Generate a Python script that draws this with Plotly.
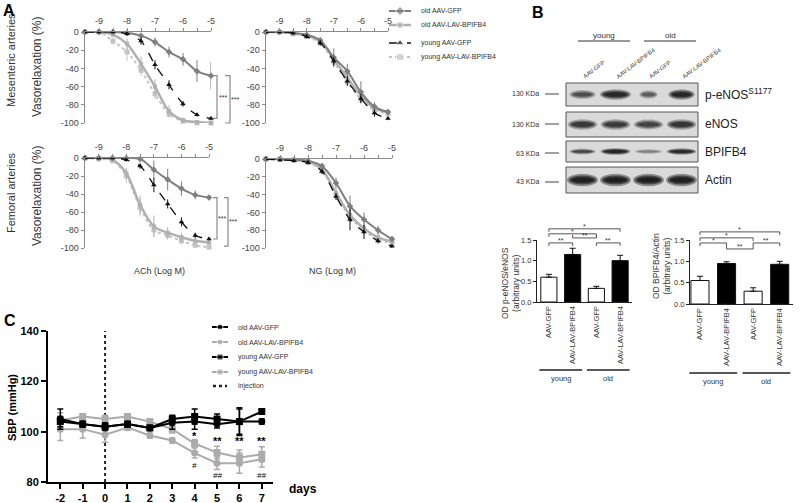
import plotly.graph_objects as go

W, H = 800, 503
FONT = "Liberation Sans, Arial, sans-serif"

# ---------------- DATA ----------------
# Panel A: concentration-response (log M)
logc = [-9.5, -9, -8.5, -8, -7.5, -7, -6.5, -6, -5.5, -5]
a_series = ["old AAV-GFP", "old AAV-LAV-BPIFB4", "young AAV-GFP", "young AAV-LAV-BPIFB4"]

mes_ach = {
    "old AAV-GFP":          [0, 0, 0, -1, -4, -11, -22, -30, -43, -48],
    "old AAV-LAV-BPIFB4":   [0, 0, -3, -13, -35, -60, -87, -97, -99, -100],
    "young AAV-GFP":        [0, 0, 0, -2, -10, -36, -58, -79, -91, -95],
    "young AAV-LAV-BPIFB4": [0, 0, -10, -22, -42, -68, -90, -98, -100, -100],
}
mes_ach_err = {
    "old AAV-GFP":          [0, 0, 1, 2, 3, 5, 6, 7, 12, 15],
    "old AAV-LAV-BPIFB4":   [0, 0, 2, 6, 8, 8, 6, 3, 2, 1],
    "young AAV-GFP":        [0, 0, 1, 2, 4, 5, 5, 3, 2, 2],
    "young AAV-LAV-BPIFB4": [0, 0, 4, 10, 6, 6, 4, 2, 1, 1],
}
mes_ng = {
    "old AAV-GFP":          [0, 0, -1, -3, -9, -28, -43, -66, -82, -88],
    "old AAV-LAV-BPIFB4":   [0, 0, -1, -4, -10, -30, -50, -70, -84, -88],
    "young AAV-GFP":        [0, 0, -1, -5, -12, -32, -54, -73, -89, -95],
    "young AAV-LAV-BPIFB4": [0, 0, -2, -5, -12, -33, -55, -74, -86, -90],
}
mes_ng_err = {
    "old AAV-GFP":          [0, 0, 1, 2, 3, 10, 8, 12, 5, 3],
    "old AAV-LAV-BPIFB4":   [0, 0, 1, 2, 3, 6, 6, 6, 4, 3],
    "young AAV-GFP":        [0, 0, 1, 2, 3, 5, 5, 5, 4, 2],
    "young AAV-LAV-BPIFB4": [0, 0, 1, 2, 3, 6, 5, 5, 4, 3],
}
fem_ach = {
    "old AAV-GFP":          [0, 0, 0, 0, -1, -13, -24, -34, -41, -44],
    "old AAV-LAV-BPIFB4":   [0, 0, -2, -17, -52, -76, -83, -88, -92, -94],
    "young AAV-GFP":        [0, 0, 0, -2, -9, -30, -51, -71, -86, -90],
    "young AAV-LAV-BPIFB4": [0, -1, -3, -20, -55, -80, -86, -92, -97, -99],
}
fem_ach_err = {
    "old AAV-GFP":          [0, 0, 1, 1, 2, 10, 12, 8, 5, 3],
    "old AAV-LAV-BPIFB4":   [0, 0, 2, 6, 10, 12, 6, 5, 3, 2],
    "young AAV-GFP":        [0, 0, 1, 2, 3, 8, 5, 5, 3, 2],
    "young AAV-LAV-BPIFB4": [0, 1, 3, 8, 10, 8, 5, 4, 2, 1],
}
fem_ng = {
    "old AAV-GFP":          [0, 0, -1, -2, -8, -27, -53, -68, -80, -90],
    "old AAV-LAV-BPIFB4":   [0, 0, -1, -3, -12, -38, -63, -78, -88, -93],
    "young AAV-GFP":        [0, -1, -2, -4, -14, -42, -68, -82, -92, -98],
    "young AAV-LAV-BPIFB4": [0, 0, -1, -4, -13, -40, -65, -80, -90, -95],
}
fem_ng_err = {
    "old AAV-GFP":          [0, 0, 1, 2, 3, 6, 12, 8, 5, 3],
    "old AAV-LAV-BPIFB4":   [0, 0, 1, 2, 3, 5, 8, 6, 4, 3],
    "young AAV-GFP":        [0, 0, 1, 2, 3, 4, 12, 8, 3, 2],
    "young AAV-LAV-BPIFB4": [0, 0, 1, 2, 3, 5, 6, 5, 3, 3],
}
xtick_A = [-9, -8, -7, -6, -5]
xtick_A_text = ["-9", "-8", "-7", "-6", "-5"]
ytick_A = [0, -20, -40, -60, -80, -100]
ytick_A_text = ["0", "-20", "-40", "-60", "-80", "-100"]
mes_sig = [(-48, -95, "***"), (-48, -100, "***")]
fem_sig = [(-44, -90, "***"), (-44, -98, "***")]

# Panel B: western blot + densitometry
lanes = ["AAV-GFP", "AAV-LAV-BPIFB4", "AAV-GFP", "AAV-LAV-BPIFB4"]
groups = ["young", "old"]
blot_rows = ["p-eNOS<sup>S1177</sup>", "eNOS", "BPIFB4", "Actin"]
blot_kda = ["130 KDa", "130 KDa", "63 KDa", "43 KDa"]
band_intensity = [
    [0.55, 0.85, 0.45, 0.85],
    [0.70, 0.68, 0.62, 0.72],
    [0.60, 0.90, 0.30, 0.85],
    [0.95, 0.95, 0.95, 0.95],
]
band_width = [
    [0.85, 1.0, 0.6, 0.85],
    [0.95, 0.95, 0.95, 0.95],
    [0.85, 0.95, 0.9, 0.95],
    [1.0, 1.0, 1.0, 1.0],
]
peNOS_vals = [0.60, 1.15, 0.33, 1.00]
peNOS_err = [0.07, 0.15, 0.05, 0.13]
bpifb4_vals = [0.55, 0.95, 0.30, 0.93]
bpifb4_err = [0.10, 0.04, 0.08, 0.07]
bar_colors = ["white", "black", "white", "black"]
peNOS_sig = [(0, 3, 1.77, "*"), (0, 2, 1.65, "*"), (1, 2, 1.55, "**"), (0, 1, 1.43, "**"), (2, 3, 1.43, "**")]
peNOS_sig_up = [False, False, True, False, False]
bpifb4_sig = [(0, 3, 1.69, "*"), (0, 2, 1.55, "*"), (0, 1, 1.43, "*"), (1, 2, 1.29, "**"), (2, 3, 1.43, "**")]
bpifb4_sig_up = [False, False, False, True, False]
ytick_B = [0, 0.5, 1.0, 1.5]
ytick_B_text = ["0.0", "0.5", "1.0", "1.5"]

# Panel C: systolic blood pressure
days = [-2, -1, 0, 1, 2, 3, 4, 5, 6, 7]
day_labels = ["-2", "-1", "0", "1", "2", "3", "4", "5", "6", "7"]
c_series = ["old AAV-GFP", "old AAV-LAV-BPIFB4", "young AAV-GFP", "young AAV-LAV-BPIFB4"]
sbp = {
    "old AAV-GFP":          [105, 103, 102, 103, 101.5, 103.5, 104, 103, 104, 104],
    "old AAV-LAV-BPIFB4":   [101, 101, 98.8, 101.6, 98.5, 96.5, 91.5, 87.5, 87.5, 89],
    "young AAV-GFP":        [104, 103, 102, 103, 101.5, 105, 106, 105, 104, 108],
    "young AAV-LAV-BPIFB4": [104.5, 106, 105, 106, 104, 101, 95.3, 91.7, 89.7, 91],
}
sbp_err = {
    "old AAV-GFP":          [4, 1, 1.5, 1, 0.8, 2.5, 3, 1.5, 5.5, 1],
    "old AAV-LAV-BPIFB4":   [4.5, 3.5, 3, 1, 1, 1, 2, 2.5, 4, 3],
    "young AAV-GFP":        [2, 1, 1, 1, 1, 1.5, 3, 2, 5, 1],
    "young AAV-LAV-BPIFB4": [3, 1, 1.5, 1, 1, 1.5, 1.5, 2.5, 3, 3],
}
sbp_ticks = [80, 100, 120, 140]
injection_day = 0
star_days = [4, 5, 6, 7]
star_text = ["*", "**", "**", "**"]
star_y = [98.4, 96.4, 96.4, 96.4]
hash_days = [4, 5, 7]
hash_text = ["#", "##", "##"]
hash_y = [86.4, 82.4, 82.4]

# ---------------- LAYOUT HELPERS ----------------
AX = {
    "A1": dict(x=(85, 211), y=(32, 123), xr=[-9.5, -5], yr=[-100, 0]),
    "A2": dict(x=(266, 388), y=(32, 123), xr=[-9.5, -5], yr=[-100, 0]),
    "A3": dict(x=(85, 209), y=(158, 248), xr=[-9.5, -5], yr=[-100, 0]),
    "A4": dict(x=(266, 392), y=(159, 248), xr=[-9.5, -5], yr=[-100, 0]),
    "B1": dict(x=(537, 632), y=(240, 302), xr=[-0.5, 3.5], yr=[0, 1.5]),
    "B2": dict(x=(690, 793), y=(240, 304), xr=[-0.375, 3.5], yr=[0, 1.5]),
    "C":  dict(x=(48, 273), y=(331, 482), xr=[-2.55, 7.5], yr=[80, 140]),
    "P":  dict(x=(0, 800), y=(0, 503), xr=[0, 800], yr=[503, 0]),
}
KEYS = list(AX.keys())


def sfx(k):
    i = KEYS.index(k) + 1
    return "" if i == 1 else str(i)


def pxx(x):
    return x / W


def pxy(y):
    return 1 - y / H


def dx(k, v):
    a = AX[k]
    x0, x1 = a["x"]
    r0, r1 = a["xr"]
    return pxx(x0 + (v - r0) / (r1 - r0) * (x1 - x0))


def dy(k, v):
    a = AX[k]
    yt, yb = a["y"]
    r0, r1 = a["yr"]
    return pxy(yb - (v - r0) / (r1 - r0) * (yb - yt))


fig = go.Figure()
shapes, annotations = [], []
layout = {}

for k in KEYS:
    a = AX[k]
    s = sfx(k)
    layout["xaxis" + s] = dict(domain=[pxx(a["x"][0]), pxx(a["x"][1])], range=a["xr"],
                               anchor="y" + s, fixedrange=True, automargin=False)
    layout["yaxis" + s] = dict(domain=[pxy(a["y"][1]), pxy(a["y"][0])], range=a["yr"],
                               anchor="x" + s, fixedrange=True, automargin=False)

# Panel A axes styling
for k in ["A1", "A2", "A3", "A4"]:
    s = sfx(k)
    layout["xaxis" + s].update(side="top", showline=True, linecolor="#8a8a8a", linewidth=1.5,
                               ticks="outside", ticklen=3, tickcolor="#8a8a8a",
                               tickvals=xtick_A, ticktext=xtick_A_text, showgrid=False, zeroline=False,
                               minor=dict(tickvals=[-8.5, -7.5, -6.5, -5.5], ticks="outside", ticklen=3,
                                          tickcolor="#8a8a8a", showgrid=False),
                               tickfont=dict(family=FONT, size=9, color="#444"))
    layout["yaxis" + s].update(showline=True, linecolor="#8a8a8a", linewidth=1.5,
                               ticks="outside", ticklen=3, tickcolor="#8a8a8a",
                               tickvals=ytick_A, ticktext=ytick_A_text, showgrid=False, zeroline=False,
                               tickfont=dict(family=FONT, size=9, color="#444"))

A_style = {
    "old AAV-GFP": dict(color="#7f7f7f", width=2, dash="solid", symbol="diamond", size=5),
    "old AAV-LAV-BPIFB4": dict(color="#b0b0b0", width=2.5, dash="solid", symbol="square", size=4),
    "young AAV-GFP": dict(color="#111111", width=1.3, dash="dash", symbol="triangle-up", size=5),
    "young AAV-LAV-BPIFB4": dict(color="#c4c4c4", width=2, dash="dot", symbol="square", size=5),
}
A_panels = [("A1", mes_ach, mes_ach_err), ("A2", mes_ng, mes_ng_err),
            ("A3", fem_ach, fem_ach_err), ("A4", fem_ng, fem_ng_err)]
draw_order = ["young AAV-LAV-BPIFB4", "old AAV-LAV-BPIFB4", "old AAV-GFP", "young AAV-GFP"]
for k, vals, errs in A_panels:
    s = sfx(k)
    for name in draw_order:
        st = A_style[name]
        fig.add_trace(go.Scatter(
            x=logc, y=vals[name], mode="lines+markers", name=name, showlegend=False,
            xaxis="x" + s, yaxis="y" + s, cliponaxis=False,
            line=dict(color=st["color"], width=st["width"], dash=st["dash"], shape="spline", smoothing=0.9),
            marker=dict(symbol=st["symbol"], size=st["size"], color=st["color"]),
            error_y=dict(type="data", array=errs[name], color=st["color"], thickness=1, width=0)))

# significance brackets in A
for k, sig, xoffs in [("A1", mes_sig, [(213, 217, 223), (225, 230, 235)]),
                      ("A3", fem_sig, [(213, 217, 222), (224, 228, 233)])]:
    for (ytop, ybot, txt), (xin, xout, xt) in zip(sig, xoffs):
        y1, y2 = dy(k, ytop), dy(k, ybot)
        shapes.append(dict(type="path", xref="paper", yref="paper",
                           path=f"M {pxx(xin)},{y1} L {pxx(xout)},{y1} L {pxx(xout)},{y2} L {pxx(xin)},{y2}",
                           line=dict(color="#8a8a8a", width=1.2)))
        annotations.append(dict(x=pxx(xt), y=(y1 + y2) / 2, xref="paper", yref="paper", text=txt,
                                showarrow=False, font=dict(family=FONT, size=7, color="#333")))

# Panel A legend (custom, compact)
legA_rows = [11, 25, 43, 57]
for name, ry in zip(a_series, legA_rows):
    st = A_style[name]
    fig.add_trace(go.Scatter(x=[389, 400, 411], y=[ry] * 3, mode="lines+markers", showlegend=False,
                             xaxis="x" + sfx("P"), yaxis="y" + sfx("P"), cliponaxis=False,
                             line=dict(color=st["color"], width=st["width"], dash=st["dash"]),
                             marker=dict(symbol=st["symbol"], size=[0, st["size"] + 2, 0], color=st["color"])))
    annotations.append(dict(x=pxx(419), y=pxy(ry), xref="paper", yref="paper", text=name, showarrow=False,
                            xanchor="left", font=dict(family=FONT, size=7, color="#333")))

# Panel A text labels
for txt, x, y, size in [("Mesenteric arteries", 11, 60, 11), ("Vasorelaxation (%)", 37, 67, 12),
                        ("Femoral arteries", 11, 193, 11), ("Vasorelaxation (%)", 37, 196, 12)]:
    annotations.append(dict(x=pxx(x), y=pxy(y), xref="paper", yref="paper", text=txt, textangle=-90,
                            showarrow=False, font=dict(family=FONT, size=size, color="#333")))
for txt, x, y in [("ACh (Log M)", 159, 271), ("NG (Log M)", 332, 271)]:
    annotations.append(dict(x=pxx(x), y=pxy(y), xref="paper", yref="paper", text=txt, showarrow=False,
                            font=dict(family=FONT, size=9, color="#333")))
for txt, x, y in [("A", 9, 11), ("B", 538, 13), ("C", 10, 320)]:
    annotations.append(dict(x=pxx(x), y=pxy(y), xref="paper", yref="paper", text=f"<b>{txt}</b>",
                            showarrow=False, font=dict(family=FONT, size=16, color="black")))

# ---------------- Panel B: blot ----------------
blot_x0, blot_x1 = 566, 698
lane_w = (blot_x1 - blot_x0) / len(lanes)
row_boxes = [(83, 106), (112, 137), (141, 162), (167, 193)]
row_band_h = [11, 12, 7, 13]
row_label_y = [94, 124, 152, 180]
kda_y = [94, 124, 153, 182]
for r, (yt, yb) in enumerate(row_boxes):
    shapes.append(dict(type="rect", xref="paper", yref="paper", x0=pxx(blot_x0), x1=pxx(blot_x1),
                       y0=pxy(yb), y1=pxy(yt), fillcolor="#dadada", line=dict(color="#555", width=1)))
    cy = (yt + yb) / 2
    for li in range(len(lanes)):
        cx = blot_x0 + (li + 0.5) * lane_w
        inten = band_intensity[r][li]
        bw = band_width[r][li] * lane_w * 0.94
        bh = row_band_h[r] * (0.6 + 0.4 * inten)
        for fw, fh, al in [(1.0, 1.0, 0.40), (0.88, 0.72, 0.6), (0.74, 0.45, 0.8)]:
            shapes.append(dict(type="circle", xref="paper", yref="paper",
                               x0=pxx(cx - bw * fw / 2), x1=pxx(cx + bw * fw / 2),
                               y0=pxy(cy + bh * fh / 2), y1=pxy(cy - bh * fh / 2),
                               fillcolor=f"rgba(20,20,20,{min(al * inten, 0.95):.2f})", line=dict(width=0)))
    annotations.append(dict(x=pxx(703), y=pxy(row_label_y[r]), xref="paper", yref="paper", text=blot_rows[r],
                            showarrow=False, xanchor="left",
                            font=dict(family=FONT, size=12, color="#222")))
    annotations.append(dict(x=pxx(541), y=pxy(kda_y[r]), xref="paper", yref="paper", text=blot_kda[r],
                            showarrow=False, xanchor="right",
                            font=dict(family=FONT, size=7, color="#333")))
    shapes.append(dict(type="line", xref="paper", yref="paper", x0=pxx(545), x1=pxx(559),
                       y0=pxy(kda_y[r]), y1=pxy(kda_y[r]), line=dict(color="#444", width=1)))

for li, lab in enumerate(lanes):
    cx = blot_x0 + (li + 0.5) * lane_w
    annotations.append(dict(x=pxx(cx - 3), y=pxy(82), xref="paper", yref="paper", text=lab, textangle=-37,
                            showarrow=False, xanchor="left", yanchor="bottom",
                            font=dict(family=FONT, size=6, color="#444")))
for gi, g in enumerate(groups):
    xa = blot_x0 + (2 * gi) * lane_w + 12
    xb = blot_x0 + (2 * gi + 2) * lane_w - 2
    shapes.append(dict(type="line", xref="paper", yref="paper", x0=pxx(xa), x1=pxx(xb),
                       y0=pxy(41), y1=pxy(41), line=dict(color="#333", width=1.2)))
    annotations.append(dict(x=pxx((xa + xb) / 2), y=pxy(35), xref="paper", yref="paper", text=g,
                            showarrow=False, font=dict(family=FONT, size=8, color="#333")))

# ---------------- Panel B: bar charts ----------------
for k, vals, errs, sig, sig_up, title, tx, ty, grp_y in [
        ("B1", peNOS_vals, peNOS_err, peNOS_sig, peNOS_sig_up, "OD p-eNOS/eNOS<br>(arbitrary units)", 510, 283, 370),
        ("B2", bpifb4_vals, bpifb4_err, bpifb4_sig, bpifb4_sig_up, "OD BPIFB4/Actin<br>(arbitrary units)", 661, 266, 373)]:
    s = sfx(k)
    layout["xaxis" + s].update(showline=True, linecolor="#222", linewidth=1, ticks="", showgrid=False,
                               zeroline=False, tickvals=[0, 1, 2, 3], ticktext=lanes, tickangle=-90,
                               tickfont=dict(family=FONT, size=7.5, color="#333"))
    layout["yaxis" + s].update(showline=True, linecolor="#222", linewidth=1, ticks="outside", ticklen=3,
                               tickcolor="#222", tickvals=ytick_B, ticktext=ytick_B_text, showgrid=False,
                               zeroline=False, tickfont=dict(family=FONT, size=7.5, color="#333"))
    fig.add_trace(go.Bar(x=[0, 1, 2, 3], y=vals, width=0.68, showlegend=False, xaxis="x" + s, yaxis="y" + s,
                         marker=dict(color=bar_colors, line=dict(color="#111", width=1)),
                         error_y=dict(type="data", symmetric=False, array=errs, arrayminus=[0] * 4,
                                      color="#111", thickness=1, width=3)))
    for (i1, i2, yv, txt), up in zip(sig, sig_up):
        xa, xb, yy = dx(k, i1), dx(k, i2), dy(k, yv)
        tick = (3 if up else -3) / H
        shapes.append(dict(type="path", xref="paper", yref="paper",
                           path=f"M {xa},{yy + tick} L {xa},{yy} L {xb},{yy} L {xb},{yy + tick}",
                           line=dict(color="#555", width=1)))
        annotations.append(dict(x=(xa + xb) / 2, y=yy, xref="paper", yref="paper", text=txt, showarrow=False,
                                yanchor="bottom", yshift=-3,
                                font=dict(family=FONT, size=7, color="#333")))
    annotations.append(dict(x=pxx(tx), y=pxy(ty), xref="paper", yref="paper", text=title, textangle=-90,
                            showarrow=False, font=dict(family=FONT, size=8.5, color="#333")))
    for gi, g in enumerate(groups):
        xa = dx(k, 2 * gi - 0.4)
        xb = dx(k, 2 * gi + 1 + 0.4)
        shapes.append(dict(type="line", xref="paper", yref="paper", x0=xa, x1=xb,
                           y0=pxy(grp_y), y1=pxy(grp_y), line=dict(color="#222", width=1.5)))
        annotations.append(dict(x=(xa + xb) / 2, y=pxy(grp_y + 8), xref="paper", yref="paper", text=g,
                                showarrow=False, font=dict(family=FONT, size=7.5, color="#333")))

# ---------------- Panel C ----------------
s = sfx("C")
layout["xaxis" + s].update(showline=True, linecolor="black", linewidth=2, ticks="outside", ticklen=5,
                           tickwidth=2, tickcolor="black", tickvals=days, ticktext=day_labels,
                           showgrid=False, zeroline=False,
                           tickfont=dict(family=FONT, size=11, color="black", weight="bold"))
layout["yaxis" + s].update(showline=True, linecolor="black", linewidth=2, ticks="outside", ticklen=5,
                           tickwidth=2, tickcolor="black", tickvals=sbp_ticks, showgrid=False,
                           zeroline=False, tickfont=dict(family=FONT, size=11, color="black", weight="bold"))
C_style = {
    "old AAV-GFP": dict(color="black", symbol="circle"),
    "old AAV-LAV-BPIFB4": dict(color="#ababab", symbol="circle"),
    "young AAV-GFP": dict(color="black", symbol="square"),
    "young AAV-LAV-BPIFB4": dict(color="#ababab", symbol="square"),
}
fig.add_trace(go.Scatter(x=[injection_day, injection_day], y=[80, 140], mode="lines", showlegend=False,
                         xaxis="x" + s, yaxis="y" + s, line=dict(color="#222", width=2, dash="dot")))
for name in ["old AAV-LAV-BPIFB4", "young AAV-LAV-BPIFB4", "old AAV-GFP", "young AAV-GFP"]:
    st = C_style[name]
    fig.add_trace(go.Scatter(x=days, y=sbp[name], mode="lines+markers", showlegend=False,
                             xaxis="x" + s, yaxis="y" + s, cliponaxis=False,
                             line=dict(color=st["color"], width=2),
                             marker=dict(symbol=st["symbol"], size=7, color=st["color"]),
                             error_y=dict(type="data", array=sbp_err[name], color=st["color"],
                                          thickness=1.5, width=3)))
for d, t, yv in zip(star_days, star_text, star_y):
    annotations.append(dict(x=d, y=yv, xref="x" + s, yref="y" + s, text=f"<b>{t}</b>", showarrow=False,
                            font=dict(family=FONT, size=11, color="black")))
for d, t, yv in zip(hash_days, hash_text, hash_y):
    annotations.append(dict(x=d, y=yv, xref="x" + s, yref="y" + s, text=f"<i>{t}</i>", showarrow=False,
                            font=dict(family=FONT, size=8, color="black")))
annotations.append(dict(x=pxx(303), y=pxy(489), xref="paper", yref="paper", text="<b>days</b>", showarrow=False,
                        font=dict(family=FONT, size=12, color="black")))
annotations.append(dict(x=pxx(12), y=pxy(408), xref="paper", yref="paper", text="<b>SBP (mmHg)</b>",
                        textangle=-90, showarrow=False, font=dict(family=FONT, size=11, color="black")))

# Panel C legend
legC_rows = [327, 342, 357, 372]
for name, ry in zip(c_series, legC_rows):
    st = C_style[name]
    fig.add_trace(go.Scatter(x=[212, 220, 228], y=[ry] * 3, mode="lines+markers", showlegend=False,
                             xaxis="x" + sfx("P"), yaxis="y" + sfx("P"), cliponaxis=False,
                             line=dict(color=st["color"], width=2),
                             marker=dict(symbol=st["symbol"], size=[0, 6, 0], color=st["color"])))
    annotations.append(dict(x=pxx(236), y=pxy(ry), xref="paper", yref="paper", text=name, showarrow=False,
                            xanchor="left", font=dict(family=FONT, size=7, color="#333")))
fig.add_trace(go.Scatter(x=[213, 227], y=[386, 386], mode="lines", showlegend=False,
                         xaxis="x" + sfx("P"), yaxis="y" + sfx("P"), cliponaxis=False,
                         line=dict(color="#222", width=2.5, dash="dot")))
annotations.append(dict(x=pxx(236), y=pxy(386), xref="paper", yref="paper", text="injection", showarrow=False,
                        xanchor="left", font=dict(family=FONT, size=7, color="#333")))

for ann in annotations:
    ann.setdefault("xanchor", "center")
    ann.setdefault("yanchor", "middle")

layout["xaxis" + sfx("P")].update(visible=False)
layout["yaxis" + sfx("P")].update(visible=False)

fig.update_layout(template="none")
fig.update_layout(**layout)
fig.update_layout(width=W, height=H, autosize=False, margin=dict(l=0, r=0, t=0, b=0, pad=0),
                  paper_bgcolor="white", plot_bgcolor="rgba(0,0,0,0)", showlegend=False,
                  shapes=shapes, annotations=annotations, font=dict(family=FONT))
fig.write_html("out.html", config={"displayModeBar": False, "staticPlot": True},
               post_script="document.body.style.margin='0px';document.body.style.overflow='hidden';")
